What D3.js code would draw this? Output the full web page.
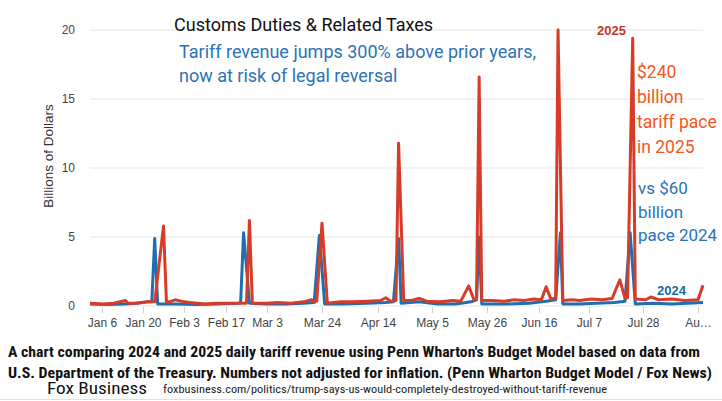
<!doctype html>
<html>

<head>
    <title>Customs Duties & Related Taxes</title>
    <script src="https://d3js.org/d3.v7.min.js"></script>
    <style>
        body { margin: 0; background: #fff; }
    </style>
</head>

<body>
<script>
    // 2025 daily customs duties, billions of dollars
    var days2025 = ["2025-01-02","2025-01-06","2025-01-10","2025-01-14","2025-01-15","2025-01-17","2025-01-20","2025-01-22","2025-01-24","2025-01-27","2025-01-28","2025-01-29","2025-01-31","2025-02-03","2025-02-05","2025-02-10","2025-02-14","2025-02-17","2025-02-20","2025-02-24","2025-02-25","2025-02-26","2025-03-03","2025-03-07","2025-03-12","2025-03-17","2025-03-20","2025-03-21","2025-03-22","2025-03-24","2025-03-26","2025-03-31","2025-04-04","2025-04-10","2025-04-15","2025-04-17","2025-04-19","2025-04-21","2025-04-22","2025-04-24","2025-04-27","2025-04-30","2025-05-03","2025-05-08","2025-05-13","2025-05-16","2025-05-19","2025-05-21","2025-05-22","2025-05-23","2025-05-24","2025-05-28","2025-06-02","2025-06-06","2025-06-10","2025-06-14","2025-06-17","2025-06-19","2025-06-21","2025-06-23","2025-06-24","2025-06-26","2025-06-30","2025-07-03","2025-07-08","2025-07-12","2025-07-16","2025-07-19","2025-07-21","2025-07-22","2025-07-24","2025-07-25","2025-07-29","2025-07-31","2025-08-03","2025-08-08","2025-08-13","2025-08-18","2025-08-20"];
    var values2025 = [0.2,0.15,0.2,0.4,0.2,0.2,0.25,0.3,0.3,5.8,0.3,0.3,0.45,0.3,0.25,0.15,0.2,0.2,0.2,0.2,6.2,0.2,0.2,0.25,0.2,0.3,0.45,0.3,0.35,6.0,0.2,0.3,0.3,0.35,0.4,0.6,0.35,0.4,11.8,0.4,0.4,0.55,0.35,0.3,0.4,0.35,1.45,0.45,0.5,16.6,0.4,0.4,0.35,0.45,0.4,0.5,0.45,1.4,0.5,0.6,20.0,0.4,0.45,0.4,0.5,0.45,0.55,1.9,0.55,0.6,19.4,0.5,0.45,0.65,0.45,0.5,0.4,0.45,1.5];

    // 2024 daily customs duties, same calendar days
    var days2024 = ["2025-01-02","2025-01-08","2025-01-14","2025-01-18","2025-01-21","2025-01-23","2025-01-24","2025-01-25","2025-01-31","2025-02-07","2025-02-14","2025-02-21","2025-02-22","2025-02-23","2025-02-25","2025-03-03","2025-03-10","2025-03-17","2025-03-21","2025-03-23","2025-03-25","2025-04-01","2025-04-10","2025-04-17","2025-04-20","2025-04-22","2025-04-23","2025-04-30","2025-05-07","2025-05-14","2025-05-20","2025-05-22","2025-05-23","2025-05-24","2025-06-03","2025-06-12","2025-06-19","2025-06-23","2025-06-25","2025-06-26","2025-07-03","2025-07-10","2025-07-17","2025-07-21","2025-07-23","2025-07-25","2025-08-01","2025-08-08","2025-08-14","2025-08-20"];
    var values2024 = [0.15,0.1,0.15,0.2,0.3,0.3,4.9,0.15,0.15,0.1,0.15,0.2,0.25,5.3,0.2,0.15,0.15,0.2,0.25,5.1,0.15,0.15,0.2,0.25,0.3,4.9,0.2,0.3,0.15,0.15,0.3,0.45,5.0,0.15,0.15,0.2,0.35,0.45,5.3,0.15,0.15,0.2,0.25,0.35,5.3,0.15,0.2,0.15,0.2,0.25];

    var tickDays = ["2025-01-06","2025-01-20","2025-02-03","2025-02-17","2025-03-03","2025-03-24","2025-04-14","2025-05-05","2025-05-26","2025-06-16","2025-07-07","2025-07-28","2025-08-18"];
    var tickLabels = ["Jan 6","Jan 20","Feb 3","Feb 17","Mar 3","Mar 24","Apr 14","May 5","May 26","Jun 16","Jul 7","Jul 28","Au\u2026"];
    var yTicks = [0, 5, 10, 15, 20];

    var parse = d3.timeParse("%Y-%m-%d");

    var W = 722, H = 401;
    var plotLeft = 90, plotRight = 703, plotTop = 30, plotBottom = 306;

    var svg = d3.select("body").append("svg").attr("width", W).attr("height", H);

    // x axis of the original is not evenly spaced in time, so breakpoints at the ticks
    var xDomain = [parse("2025-01-02")].concat(tickDays.map(parse)).concat([parse("2025-08-20")]);
    var xRange = [plotLeft, 102, 143, 184, 226, 267, 322, 378, 432, 487, 539, 589, 643, 698, plotRight];
    var x = d3.scaleTime().domain(xDomain).range(xRange);
    var y = d3.scaleLinear().domain([0, 20]).range([plotBottom, plotTop]);

    // gridlines
    svg.selectAll("line.grid")
        .data(yTicks)
        .enter()
        .append("line")
        .attr("class", "grid")
        .attr("x1", plotLeft).attr("x2", plotRight)
        .attr("y1", function (d) { return y(d); })
        .attr("y2", function (d) { return y(d); })
        .attr("stroke", "#e6e6e6")
        .attr("stroke-width", 1);

    var yAxis = d3.axisLeft(y).tickValues(yTicks).tickSize(0).tickPadding(15);
    svg.append("g")
        .attr("transform", "translate(" + plotLeft + ",0)")
        .call(yAxis)
        .call(function (g) { g.select(".domain").remove(); })
        .selectAll("text")
        .attr("font-family", "'Liberation Sans', Arial, sans-serif")
        .attr("font-size", 12)
        .attr("fill", "#444");

    var xAxis = d3.axisBottom(x)
        .tickValues(tickDays.map(parse))
        .tickFormat(function (d, i) { return tickLabels[i]; })
        .tickSize(6).tickPadding(5);
    var gx = svg.append("g")
        .attr("transform", "translate(0," + (plotBottom + 1) + ")")
        .call(xAxis);
    gx.select(".domain").remove();
    gx.selectAll("line").attr("stroke", "#d0d0d0");
    gx.selectAll("text")
        .attr("font-family", "'Liberation Sans', Arial, sans-serif")
        .attr("font-size", 12)
        .attr("fill", "#444");

    svg.append("text")
        .attr("transform", "translate(53,156) rotate(-90)")
        .attr("text-anchor", "middle")
        .attr("font-family", "'Liberation Sans', Arial, sans-serif")
        .attr("font-size", 13.5)
        .attr("fill", "#333")
        .text("Billions of Dollars");

    var line = d3.line()
        .x(function (d) { return x(d[0]); })
        .y(function (d) { return y(d[1]); });

    function pairs(days, values) {
        return days.map(function (d, i) { return [parse(d), values[i]]; });
    }

    svg.append("path")
        .datum(pairs(days2024, values2024))
        .attr("d", line)
        .attr("fill", "none")
        .attr("stroke", "#1f6fb0")
        .attr("stroke-width", 3)
        .attr("stroke-linejoin", "round");

    svg.append("path")
        .datum(pairs(days2025, values2025))
        .attr("d", line)
        .attr("fill", "none")
        .attr("stroke", "#d63c27")
        .attr("stroke-width", 3)
        .attr("stroke-linejoin", "round");

    // titles and notes
    function label(txt, xx, yy, size, color, weight, family) {
        return svg.append("text")
            .attr("x", xx).attr("y", yy)
            .attr("font-family", family || "Roboto, 'Noto Sans', sans-serif")
            .attr("font-size", size)
            .attr("font-weight", weight || "normal")
            .attr("fill", color)
            .text(txt);
    }

    label("Customs Duties & Related Taxes", 174, 31, 18, "#111");
    label("Tariff revenue jumps 300% above prior years,", 179, 58, 18, "#2b73b6");
    label("now at risk of legal reversal", 179, 82, 18, "#2b73b6");

    label("2025", 597, 35, 13, "#c0392b", "bold", "'Liberation Sans', Arial, sans-serif");
    label("2024", 657, 295, 13, "#1a6aa6", "bold", "'Liberation Sans', Arial, sans-serif");

    var orange = ["$240", "billion", "tariff pace", "in 2025"];
    orange.forEach(function (t, i) { label(t, 637, 78 + i * 25, 17.5, "#f4561c"); });
    var blue = ["vs $60", "billion", "pace 2024"];
    blue.forEach(function (t, i) { label(t, 638, 194 + i * 23.5, 17, "#2b73b6"); });

    // caption
    var capFont = "'Liberation Sans Narrow', 'Roboto Condensed', Roboto, sans-serif";
    label("A chart comparing 2024 and 2025 daily tariff revenue using Penn Wharton's Budget Model based on data from", 8, 357, 14, "#111", "bold", capFont)
        .attr("textLength", 692).attr("lengthAdjust", "spacingAndGlyphs");
    label("U.S. Department of the Treasury. Numbers not adjusted for inflation. (Penn Wharton Budget Model / Fox News)", 8, 378, 14, "#111", "bold", capFont)
        .attr("textLength", 704).attr("lengthAdjust", "spacingAndGlyphs");
    label("Fox Business", 47, 394, 17, "#111", "normal", capFont)
        .attr("textLength", 100).attr("lengthAdjust", "spacingAndGlyphs");
    label("foxbusiness.com/politics/trump-says-us-would-completely-destroyed-without-tariff-revenue", 163, 393, 11.5, "#222", "normal", capFont)
        .attr("textLength", 444).attr("lengthAdjust", "spacingAndGlyphs");

    svg.append("line")
        .attr("x1", 0).attr("x2", W).attr("y1", 399.5).attr("y2", 399.5)
        .attr("stroke", "#e0e0e0");
</script>
</body>

</html>
